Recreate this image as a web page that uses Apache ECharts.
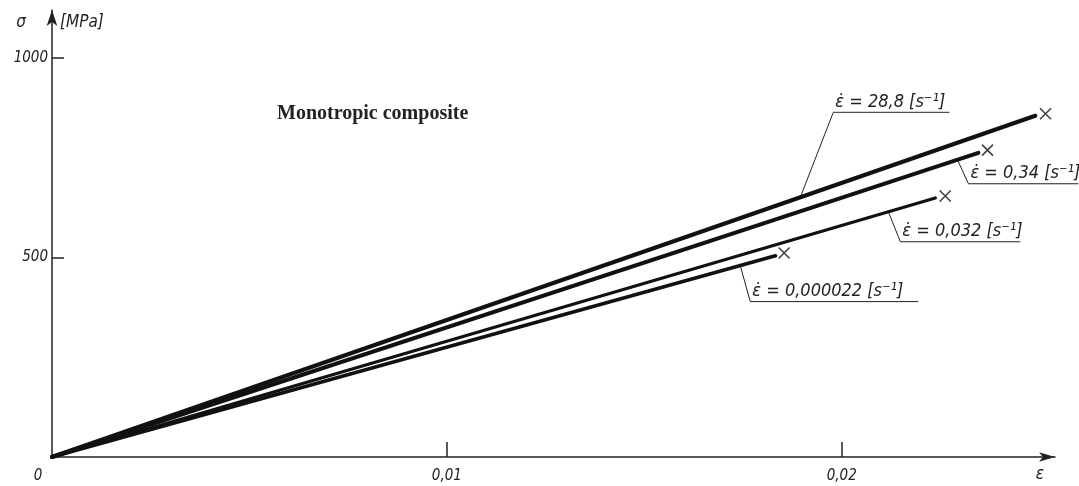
<!DOCTYPE html>
<html>
<head>
<meta charset="utf-8">
<script src="https://cdn.jsdelivr.net/npm/echarts@6/dist/echarts.min.js"></script>
<style>
html,body{margin:0;padding:0;background:#fff;}
#chart{width:1079px;height:486px;}
</style>
</head>
<body>
<div id="chart"></div>
<script>
// ---- data ----
const rateLabels = ['28,8', '0,34', '0,032', '0,000022'];
const strainEnd = [0.02490, 0.02346, 0.02237, 0.01832];   // end of drawn curve
const stressEnd = [855, 762, 649, 504];
const failStrain = [0.02516, 0.02369, 0.02262, 0.01854];  // × failure points
const failStress = [860, 769, 654, 511];
const xTickValues = [0, 0.01, 0.02];
const yTickValues = [500, 1000];
const titleText = 'Monotropic composite';

// ---- annotation layout (not data) ----
const annAnchorStrain = [0.01895, 0.02293, 0.02118, 0.01743];
const annElbow = [[33, -85], [11, 24], [12, 30], [10, 36]];
const annUnderline = [116, 110, 120, 168];
const lineWidths = [4, 4, 3.2, 3.6];

const FONT = "'DejaVu Sans Condensed', 'Liberation Sans Narrow', 'DejaVu Sans', sans-serif";
const chart = echarts.init(document.getElementById('chart'));

const series = rateLabels.map((r, i) => ({
  name: r,
  type: 'line',
  data: [[0, 0], [strainEnd[i], stressEnd[i]]],
  showSymbol: false,
  lineStyle: { color: '#111', width: lineWidths[i], cap: 'round' },
  silent: true,
  animation: false
}));
series.push({
  type: 'scatter',
  data: failStrain.map((x, i) => [x, failStress[i]]),
  symbol: 'path://M0,0L10,10M10,0L0,10',
  symbolSize: 11,
  itemStyle: { color: 'rgba(0,0,0,0)', borderColor: '#111', borderWidth: 1.6 },
  animation: false
});

chart.setOption({
  animation: false,
  backgroundColor: '#fff',
  title: {
    text: titleText, left: 272, top: 99,
    textStyle: { fontFamily: "'Liberation Serif', serif", fontWeight: 'bold', fontSize: 20, color: '#222' }
  },
  grid: { left: 52, right: 24, top: 10, bottom: 29 },
  xAxis: {
    type: 'value', min: 0, max: 0.0254,
    name: 'ε', nameLocation: 'end', nameGap: -15,
    nameTextStyle: { fontFamily: FONT, fontStyle: 'italic', fontSize: 17, color: '#222', align: 'center', verticalAlign: 'top', padding: [9, 0, 0, 0] },
    axisLine: { show: true, symbol: ['none', 'arrow'], symbolSize: [7, 16], lineStyle: { color: '#222', width: 1.5 } },
    axisTick: { show: true, inside: true, length: 15, customValues: [0.01, 0.02], lineStyle: { color: '#222', width: 1.5 } },
    axisLabel: {
      customValues: xTickValues, margin: 12,
      fontFamily: FONT, fontStyle: 'italic', fontSize: 15, color: '#222',
      formatter: v => v === 0 ? '{z|0}' : v.toFixed(2).replace('.', ','),
      rich: { z: { padding: [0, 28, 0, 0], fontFamily: FONT, fontStyle: 'italic', fontSize: 15, color: '#222' } }
    },
    splitLine: { show: false }
  },
  yAxis: {
    type: 'value', min: 0, max: 1120,
    name: '[MPa]', nameLocation: 'end', nameGap: -13,
    nameTextStyle: { fontFamily: FONT, fontStyle: 'italic', fontSize: 17, color: '#222', align: 'left', verticalAlign: 'middle', padding: [0, 0, 0, 8] },
    axisLine: { show: true, symbol: ['none', 'arrow'], symbolSize: [8, 16], lineStyle: { color: '#222', width: 1.5 } },
    axisTick: { show: true, inside: true, length: 12, customValues: yTickValues, lineStyle: { color: '#222', width: 1.5 } },
    axisLabel: {
      customValues: yTickValues, margin: 4,
      fontFamily: FONT, fontStyle: 'italic', fontSize: 15, color: '#222',
      formatter: v => String(v)
    },
    splitLine: { show: false }
  },
  series: series
});

// annotations: leader + underline + label, anchored on each curve
function stressOnCurve(i, x) {
  return stressEnd[i] * x / strainEnd[i];
}
const graphics = [];
rateLabels.forEach((r, i) => {
  const xa = annAnchorStrain[i];
  const p = chart.convertToPixel({ gridIndex: 0 }, [xa, stressOnCurve(i, xa)]);
  const ex = p[0] + annElbow[i][0], ey = p[1] + annElbow[i][1];
  const L = annUnderline[i];
  graphics.push({
    type: 'polyline', silent: true,
    shape: { points: [[p[0], p[1]], [ex, ey], [ex + L, ey]] },
    style: { stroke: '#222', lineWidth: 1, fill: null }
  });
  graphics.push({
    type: 'text', silent: true, x: ex + 2, y: ey - 1,
    style: {
      text: 'ε̇ = ' + r + ' [s⁻¹]',
      font: 'italic 18px ' + FONT, fill: '#222', align: 'left', verticalAlign: 'bottom'
    }
  });
});
graphics.push({
  type: 'text', silent: true, x: 21, y: 23,
  style: { text: 'σ', font: 'italic 17px ' + FONT, fill: '#222', align: 'center', verticalAlign: 'middle' }
});
chart.setOption({ graphic: graphics });
</script>
</body>
</html>
